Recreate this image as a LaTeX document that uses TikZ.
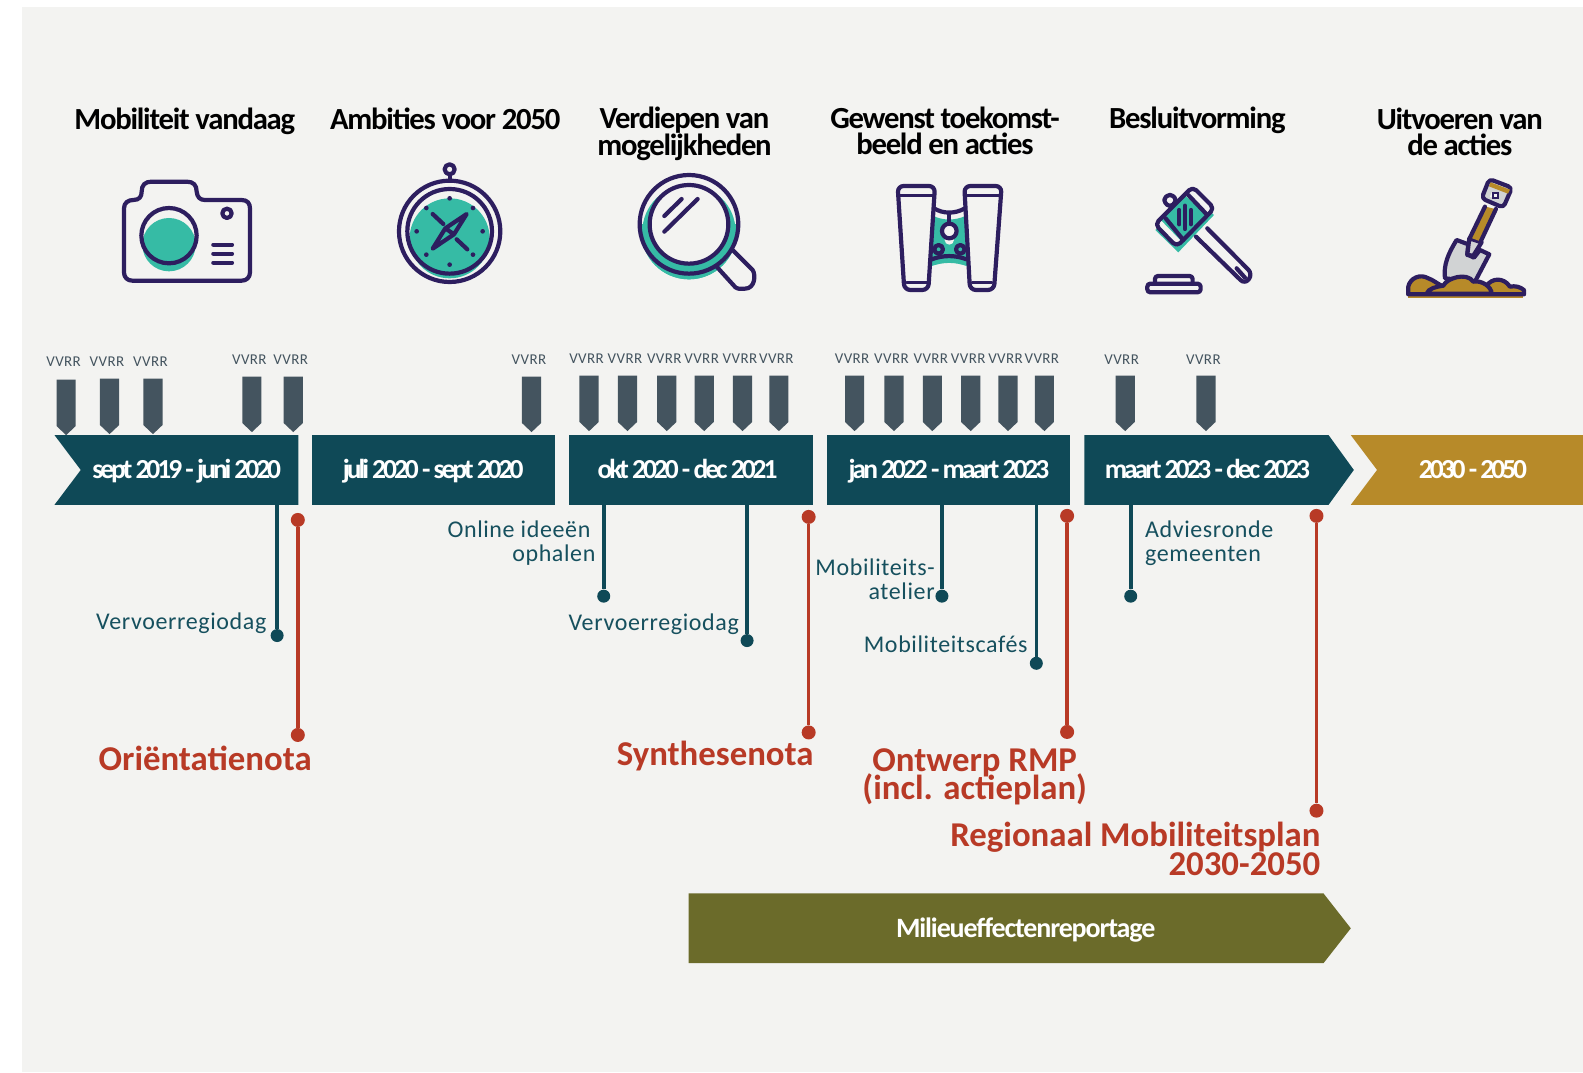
\documentclass[tikz,border=0pt]{standalone}
\usepackage{fontspec}
\setmainfont{Carlito}
\newfontfamily\tightfont[LetterSpace=-4]{Carlito}
\newfontfamily\barfont[LetterSpace=-11]{Carlito}
\newfontfamily\wideFont[LetterSpace=2.6]{Carlito}
\definecolor{bgc}{HTML}{F3F3F1}
\definecolor{barc}{HTML}{0F4957}
\definecolor{goldc}{HTML}{B78A29}
\definecolor{olivec}{HTML}{6B6B2A}
\definecolor{redc}{HTML}{B83A26}
\definecolor{tealtxt}{HTML}{16505E}
\definecolor{markc}{HTML}{44545F}
\definecolor{iconc}{HTML}{2D1E5F}
\definecolor{tealc}{HTML}{36BBA5}
\definecolor{greyc}{HTML}{D1D3D4}
\tikzset{
 heading/.style={anchor=base,inner sep=0pt,align=center,font=\fontsize{30.7}{26}\selectfont\tightfont\bfseries,text=black},
 barlabel/.style={anchor=base,inner sep=0pt,text=white,font=\fontsize{27.5}{27}\selectfont\barfont\bfseries},
 merlabel/.style={anchor=base,inner sep=0pt,text=white,font=\fontsize{28}{28}\selectfont\tightfont\bfseries},
 vvrrlabel/.style={anchor=base,inner sep=0pt,text=markc,font=\fontsize{15}{15}\selectfont\wideFont},
 steplabel/.style={anchor=base,inner sep=0pt,text=tealtxt,font=\fontsize{24}{24}\selectfont\wideFont},
 redlabel/.style={anchor=base,inner sep=0pt,text=redc,font=\fontsize{34.8}{28.5}\selectfont\bfseries},
 tealdot/.style={circle,fill=barc,minimum size=13pt,inner sep=0pt},
 reddot/.style={circle,fill=redc,minimum size=14pt,inner sep=0pt},
 tealline/.style={draw=barc,line width=3.6pt},
 redline/.style={draw=redc,line width=3.6pt},
 icon/.style={draw=iconc,line width=4.2pt,line join=round,line cap=round},
 icon3x/.style={x=0.33333pt,y=-0.33333pt},
}
\newcommand{\vmark}[2]{\fill[markc] ({#1-9.5},#2)--({#1+9.5},#2)--({#1+9.5},{#2+46})--(#1,{#2+55})--({#1-9.5},{#2+46})--cycle;}
\newcommand{\tline}[4]{\coordinate (#1s) at (#2,#3); \node[tealdot] (#1e) at (#2,#4) {}; \draw[tealline] (#1s) -- (#1e);}
\newcommand{\rline}[4]{\node[reddot] (#1s) at (#2,#3) {}; \node[reddot] (#1e) at (#2,#4) {}; \draw[redline] (#1s) -- (#1e);}
\begin{document}
\begin{tikzpicture}[x=1.0096pt,y=-1.0096pt]
\useasboundingbox (0,0) rectangle (1568,1062);
\fill[bgc] (22,7) rectangle (1568,1062);

% headings
\node[heading] (h1) at (183,128) {Mobiliteit vandaag};
\node[heading] (h2) at (441,128) {Ambities voor 2050};
\node[heading] (h3) at (678,154) {Verdiepen van\\mogelijkheden};
\node[heading] (h4) at (936,153) {Gewenst toekomst-\\beeld en acties};
\node[heading] (h5) at (1186,127) {Besluitvorming};
\node[heading] (h6) at (1446,154) {Uitvoeren van\\de acties};

% markers
\foreach \x/\y in {65.5/376,108.5/375,151.5/375,249.5/373,290.5/373,526.5/373,583.5/372,621.5/372,660.5/372,697.5/372,735.5/372,771.5/372,846.5/372,885.5/372,923.5/372,961.5/372,998.5/372,1034.5/372,1114.5/372,1194.5/372}{\vmark{\x}{\y}}
\foreach \i/\x/\y in {1/63/363,2/106/363,3/149/363,4/247/361,5/288/361,6/524/361,7/581/360,8/619/360,9/658/360,10/695/360,11/733/360,12/769/360,13/844/360,14/883/360,15/922/360,16/959/360,17/996/360,18/1032/360,19/1111/361,20/1192/361}{\node[vvrrlabel] (v\i) at (\x,\y) {VVRR};}

% timeline connectors (below bars)
\tline{a}{274.5}{500}{629.5}
\tline{b}{598}{500}{590.5}
\tline{c}{740}{500}{634.5}
\tline{d}{933}{500}{590.5}
\tline{e}{1026.5}{500}{657}
\tline{f}{1120}{500}{590.5}
\rline{p}{295}{515}{728}
\rline{q}{801}{512}{725.5}
\rline{r}{1057}{511}{725}
\rline{s}{1304}{511}{803}

% bars
\fill[barc] (54,431)--(295.5,431)--(295.5,500)--(54,500)--(80,465.5)--cycle;
\fill[barc] (309,431) rectangle (550,500);
\fill[barc] (564,431) rectangle (805,500);
\fill[barc] (819,431) rectangle (1060,500);
\fill[barc] (1074,431)--(1316,431)--(1341,465.5)--(1316,500)--(1074,500)--cycle;
\fill[goldc] (1338,431)--(1568,431)--(1568,500)--(1338,500)--(1364,465.5)--cycle;
\fill[olivec] (682,885)--(1311,885)--(1338,919.5)--(1311,954)--(682,954)--cycle;

\node[barlabel] (b1) at (185,474) {sept 2019 - juni 2020};
\node[barlabel] (b2) at (429,474) {juli 2020 - sept 2020};
\node[barlabel] (b3) at (681,474) {okt 2020 - dec 2021};
\node[barlabel] (b4) at (940,474) {jan 2022 - maart 2023};
\node[barlabel] (b5) at (1196,474) {maart 2023 - dec 2023};
\node[barlabel] (b6) at (1459,474) {2030 - 2050};
\node[merlabel] (b7) at (1016,929) {Milieueffectenreportage};

% step labels
\node[steplabel,anchor=base east] (s1) at (264,624) {Vervoerregiodag};
\node[steplabel,anchor=base east,align=right] (s2) at (590,556) {Online ideeën\hspace*{5pt}\\ophalen};
\node[steplabel,anchor=base east] (s3) at (732,625) {Vervoerregiodag};
\node[steplabel,anchor=base east,align=right] (s4) at (926,594) {Mobiliteits-\\atelier};
\node[steplabel,anchor=base east] (s5) at (1018,646) {Mobiliteitscafés};
\node[steplabel,anchor=base west,align=left] (s6) at (1134,556) {Adviesronde\\gemeenten};

% red labels
\node[redlabel,anchor=base east] (r1) at (309,763) {Oriëntatienota};
\node[redlabel,anchor=base east] (r2) at (806,758) {Synthesenota};
\node[redlabel,align=center] (r3) at (965.5,792) {Ontwerp RMP\\[-4pt](incl. actieplan)};
\node[redlabel,anchor=base east,align=right] (r4) at (1308,867) {Regionaal Mobiliteitsplan\\[-1pt]2030-2050};

% camera
\begin{scope}[icon3x,shift={(100pt,-150pt)}]
\fill[tealc] (207,284) circle (80);
\draw[icon] (72,175) .. controls (72,158) and (85,150) .. (100,150) .. controls (118,150) and (125,140) .. (125,125) .. controls (125,105) and (135,95) .. (155,95) -- (260,95) .. controls (280,95) and (290,105) .. (290,125) .. controls (292,142) and (300,150) .. (315,150) -- (425,150) .. controls (442,150) and (450,160) .. (450,175) -- (450,367) .. controls (450,382) and (440,392) .. (425,392) -- (97,392) .. controls (82,392) and (72,382) .. (72,367) -- cycle;
\draw[icon] (207,257) circle (83);
\draw[icon] (381,190) circle (14);
\draw[icon] (340,284)--(396,284) (340,311)--(396,311) (340,338)--(396,338);
% compass
\begin{scope}
\clip (1049,244) circle (150);
\fill[tealc] (1049,265) circle (120);
\end{scope}
\draw[icon] (1049,244) circle (152);
\draw[icon] (1049,244) circle (127);
\draw[icon] (1049,58) circle (15);
\draw[icon] (1049,73)--(1049,92);
\foreach \x/\y in {1049/145,1119/174,1148/244,1119/314,1049/344,979/314,950/244,979/174}{\fill[iconc] (\x,\y) circle (7);}
\draw[icon] (1100,192)--(1036,235)--(998,296)--(1062,253)--cycle (1036,235)--(1062,253);
\draw[icon] (998,192)--(1030,222) (1070,268)--(1102,298);
\end{scope}

\begin{scope}[icon3x,shift={(620pt,-160pt)}]
% magnifier
\fill[tealc] (207,215) circle (143);
\fill[bgc] (207,193) circle (148);
\begin{scope}
\clip (207,193) circle (148);
\fill[tealc] (207,215) circle (140);
\end{scope}
\begin{scope}
\clip (0,193) rectangle (400,400);
\fill[tealc] (207,215) circle (143);
\end{scope}
\fill[bgc] (207,193) circle (118);
\draw[icon] (207,193) circle (148);
\draw[icon] (207,193) circle (118);
\draw[icon] (340,272) -- (398,330) .. controls (408,345) and (405,386) .. (375,386) -- (355,386) .. controls (348,386) and (345,380) .. (340,375) -- (290,320);
\draw[icon] (133,168)--(185,117) (133,215)--(233,117);
% binoculars
\fill[tealc] (940,168) .. controls (970,182) and (1005,182) .. (1036,168) -- (1045,320) .. controls (1005,305) and (970,305) .. (930,320) -- cycle;
\fill[bgc] (988,213) circle (22);
\fill[bgc] (988,240) circle (14);
\draw[icon] (942,145) .. controls (970,162) and (1005,162) .. (1035,145);
\draw[icon] (935,298) .. controls (970,285) and (1005,285) .. (1040,298);
\draw[icon] (988,160)--(988,192);
\draw[icon] (988,213) circle (22);
\draw[icon] (956,268) circle (13);
\draw[icon] (1021,268) circle (13);
\draw[icon,rounded corners=6pt,fill=bgc] (833,78)--(945,78)--(925,390)--(853,390)--cycle;
\draw[icon,rounded corners=6pt,fill=bgc] (1033,78)--(1145,78)--(1122,390)--(1050,390)--cycle;
\draw[icon,line width=2.6pt] (838,107)--(940,107) (860,368)--(920,368) (1038,107)--(1140,107) (1056,368)--(1116,368);
\end{scope}

\begin{scope}[icon3x,shift={(1120pt,-165pt)}]
% gavel
\fill[tealc] (212,88)--(282,150)--(175,262)--(106,195)--cycle;
\draw[icon,rounded corners=4pt,fill=bgc] (150,85) -- (128,105) -- (150,128) -- (172,105) -- cycle;
\fill[tealc] (218,72)--(283,130)--(170,245)--(105,178)--cycle;
\fill[bgc] (218,72)--(283,130)--(262,152)--(197,92)--cycle;
\fill[bgc] (105,178)--(170,245)--(185,230)--(120,163)--cycle;
\draw[icon,rounded corners=5pt] (218,65)--(283,130)--(170,245)--(105,178)--cycle;
\draw[icon] (137,160)--(190,225) (205,90)--(262,150);
\draw[icon] (178,135)--(178,178) (195,122)--(195,192) (213,135)--(213,178);
\draw[icon,rounded corners=6pt,fill=bgc] (262,190)--(398,327)--(375,358)--(228,215);
\draw[icon] (350,310)--(375,338);
\draw[icon,rounded corners=3pt] (105,352)--(105,333)--(218,333)--(218,352);
\draw[icon,rounded corners=3pt] (82,356)--(242,356)--(242,382)--(82,382)--cycle;
% shovel
\fill[goldc] (865,388) -- (1210,388) -- (1210,398) -- (865,398) -- cycle;
\draw[icon,fill=greyc] (1010,225) -- (1045,238) -- (1042,268) -- (1062,278) -- (1080,255) -- (1108,268) -- (1065,350) -- (975,340) .. controls (970,300) and (985,265) .. (1010,225) -- cycle;
\draw[icon,fill=greyc] (1048,220) -- (1085,232) -- (1060,272) -- (1042,270) -- cycle;
\fill[goldc] (1098,125)--(1125,132)--(1078,228)--(1052,218)--cycle;
\draw[icon] (1095,125)--(1050,218) (1128,132)--(1082,230);
\draw[icon,fill=greyc,rounded corners=4pt] (1108,42)--(1176,68)--(1150,128)--(1085,100)--cycle;
\fill[goldc] (1112,52)--(1170,74)--(1164,86)--(1107,64)--cycle;
\fill[bgc] (1115,82) -- (1138,90) -- (1132,104) -- (1110,95) -- cycle;
\draw[iconc,line width=2pt] (1120,85) rectangle (1134,98);
\draw[icon,fill=goldc] (865,388) -- (865,365) .. controls (870,340) and (900,325) .. (925,340) .. controls (940,345) and (950,355) .. (965,362) -- (1100,362) .. controls (1115,340) and (1150,335) .. (1170,365) .. controls (1185,362) and (1200,365) .. (1212,375) -- (1212,388) -- cycle;
\draw[icon,fill=goldc] (920,386) .. controls (925,370) and (950,365) .. (970,362) .. controls (980,340) and (1040,320) .. (1060,350) .. controls (1085,345) and (1115,365) .. (1115,386) -- cycle;
\draw[icon] (865,388)--(1212,388);
\end{scope}
\end{tikzpicture}
\end{document}
